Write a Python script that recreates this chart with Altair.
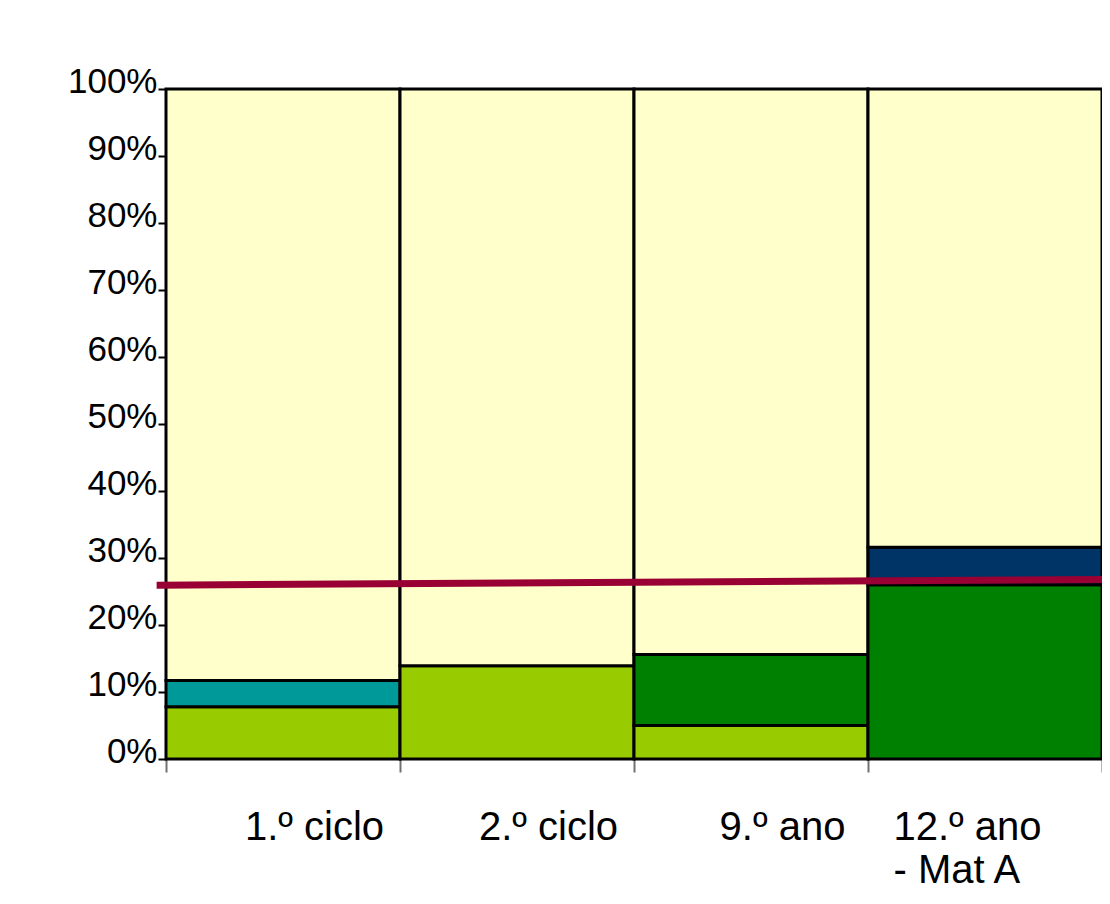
import json
import altair as alt
import pandas as pd

# ---- data ----
categories = ["1.º ciclo", "2.º ciclo", "9.º ano", "12.º ano - Mat A"]
label_lines = [["1.º ciclo"], ["2.º ciclo"], ["9.º ano"], ["12.º ano", "- Mat A"]]
series = ["Verde claro", "Azul-petróleo", "Verde escuro", "Azul-escuro", "Restante"]
colors = ["#99CC00", "#009999", "#008000", "#003366", "#FFFFCC"]
light_green = [7.8, 13.9, 5.0, 0.0]
teal = [3.9, 0.0, 0.0, 0.0]
dark_green = [0.0, 0.0, 10.6, 26.0]
navy = [0.0, 0.0, 0.0, 5.6]
ref_x = [-0.04, 4.05]
ref_y = [25.95, 26.8]

rows = []
for i, cat in enumerate(categories):
    parts = [light_green[i], teal[i], dark_green[i], navy[i]]
    parts.append(100.0 - sum(parts))
    base = 0.0
    for k, v in enumerate(parts):
        if v > 0:
            rows.append({"cat": cat, "start": i, "end": i + 1, "series": series[k],
                         "y0": base, "y1": base + v})
        base += v
df = pd.DataFrame(rows)
line_df = pd.DataFrame({"x": ref_x, "y": ref_y})

n = len(categories)
label_expr = json.dumps(label_lines + [[""]], ensure_ascii=False) + "[datum.value]"
last = n - 1

FONT = "Liberation Sans"

x_axis = alt.Axis(
    values=list(range(n + 1)),
    labelExpr=label_expr,
    title=None,
    grid=False,
    domain=False,
    ticks=True,
    tickColor="#707070",
    tickSize=13,
    tickWidth=2,
    labelFont=FONT,
    labelFontSize=40,
    labelColor="black",
    labelPadding=35,
    labelLineHeight=43,
    labelBaseline="top",
    labelFlush=False,
    labelOverlap=False,
    labelBound=False,
    labelLimit=600,
    labelAlign={"condition": {"test": f"datum.value == {last}", "value": "left"}, "value": "center"},
    labelOffset={"condition": {"test": f"datum.value == {last}", "value": 25}, "value": 148},
)

y_axis = alt.Axis(
    values=list(range(0, 101, 10)),
    labelExpr="datum.value + '%'",
    title=None,
    grid=False,
    domainColor="black",
    domainWidth=2,
    tickColor="black",
    tickSize=8,
    tickWidth=2,
    labelFont=FONT,
    labelFontSize=35,
    labelColor="black",
    labelPadding=1,
    labelOffset=-8,
)

xscale = alt.Scale(domain=[0, n], nice=False, zero=False)
yscale = alt.Scale(domain=[0, 100], nice=False)

bars = alt.Chart(df).mark_bar(stroke="black", strokeWidth=3).encode(
    x=alt.X("start:Q", scale=xscale, axis=x_axis),
    x2="end:Q",
    y=alt.Y("y0:Q", scale=yscale, axis=y_axis),
    y2="y1:Q",
    color=alt.Color("series:N", scale=alt.Scale(domain=series, range=colors), legend=None),
)

line = alt.Chart(line_df).mark_line(color="#990033", strokeWidth=7, clip=False).encode(
    x=alt.X("x:Q", scale=xscale),
    y=alt.Y("y:Q", scale=yscale),
)

chart = alt.layer(bars, line).properties(
    width=936,
    height=670,
    background="white",
    padding={"left": 158, "top": 81, "right": 0, "bottom": 133},
    autosize=alt.AutoSizeParams(type="none"),
).configure_view(stroke=None)

chart.save("out.html", embed_options={"renderer": "svg", "actions": False})
